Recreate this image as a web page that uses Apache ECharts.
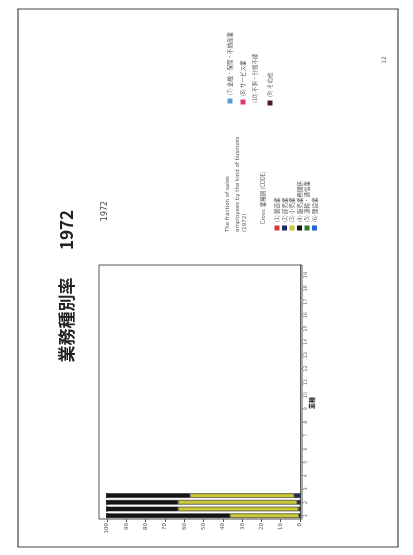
<!DOCTYPE html>
<html><head><meta charset="utf-8">
<script src="https://cdn.jsdelivr.net/npm/echarts@6/dist/echarts.min.js"></script>
<style>html,body{margin:0;padding:0;background:#fff}#c{width:413px;height:555px}</style>
</head><body><div id="c"></div>
<script>
// categories along the (rotated) category axis, bottom to top
const categories = ['1','1b','2','2b','3','3b','4','4b','5','5b','6','6b','7','7b','8','8b','9','9b','10','10b',
  '11','11b','12','12b','13','13b','14','14b','15','15b','16','16b','17','17b','18','18b','19','19b'];
const valueTicks = [0,10,20,30,40,50,60,70,80,90,100];
const seriesNames = ['(1) 製造業','(2) 卸売業','(3) 小売業','(4) 販売業務関係','(5) 運輸・通信業','(6) 建設業',
  '(7) 金融・保険・不動産業','(8) サービス業','(9) その他'];
const seriesColors = ['#e03434','#1c2a66','#c9c838','#141414','#2f7a34','#2763cc','#5a96dd','#e0357c','#4e1a24'];
const s1 = [0,0,0,0];
const s2 = [0.5,0.8,1.5,3];
const s3 = [35.8,62.4,61.7,54];
const s4 = [63.7,36.8,36.8,43];
const s5 = [0,0,0,0];
const s6 = [0,0,0,0];
const s7 = [0,0,0,0];
const s8 = [0,0,0,0];
const s9 = [0,0,0,0];
const seriesValues = [s1,s2,s3,s4,s5,s6,s7,s8,s9];
const titleText = '業務種別率';
const titleYear = '1972';
const subtitleText = '1972';
const axisName = '業種';
const headingLines = ['The fraction of sales','employees by the kind of business','(1972)'];
const crossLine = 'Cross: 業種別 (CODE)';

const chart = echarts.init(document.getElementById('c'), null, {renderer:'canvas'});
const R = Math.PI/2;
const graphics = [];
// page frame
graphics.push({type:'rect', shape:{x:18,y:9,width:380,height:538}, style:{fill:'none',stroke:'#444',lineWidth:1.2}, silent:true});
// plot box
graphics.push({type:'rect', shape:{x:99,y:265,width:203,height:254}, style:{fill:'none',stroke:'#555',lineWidth:1}, silent:true});
// title & subtitle
graphics.push({type:'text', x:67, y:320, rotation:R, style:{text:titleText, fontSize:17, fontWeight:'bold', fontFamily:'Noto Sans CJK JP', fill:'#222', align:'center', verticalAlign:'middle'}});
graphics.push({type:'text', x:67, y:230, rotation:R, style:{text:titleYear, fontSize:17, fontWeight:'bold', fontFamily:'Noto Sans CJK JP', fill:'#222', align:'center', verticalAlign:'middle'}});
graphics.push({type:'text', x:105, y:211, rotation:R, style:{text:subtitleText, fontSize:8, fontFamily:'DejaVu Sans', fill:'#444', align:'center', verticalAlign:'middle'}});
// axis name
graphics.push({type:'text', x:312, y:403, rotation:R, style:{text:axisName, fontSize:6, fontWeight:'bold', fontFamily:'Noto Sans CJK JP', fill:'#222', align:'center', verticalAlign:'middle'}});
// page number
graphics.push({type:'text', x:384, y:60, rotation:R, style:{text:'12', fontSize:6, fontFamily:'DejaVu Sans', fill:'#666', align:'center', verticalAlign:'middle'}});
// legend heading
const headX = [228,238,245];
headingLines.forEach((t,i)=>graphics.push({type:'text', x:headX[i], y:232, rotation:R, style:{text:t, fontSize:5.5, fontFamily:'DejaVu Sans', fill:'#555', align:'left', verticalAlign:'middle'}}));
graphics.push({type:'text', x:263, y:224, rotation:R, style:{text:crossLine, fontSize:5.5, fontFamily:'Noto Sans CJK JP', fill:'#555', align:'left', verticalAlign:'middle'}});
// legend items
const legPos = [[277,228],[284.5,228],[292,228],[299.5,228],[307,228],[314.5,228],[230,101],[243,102],[270,103]];
seriesNames.forEach((n,i)=>{
  const [x,y] = legPos[i];
  graphics.push({type:'rect', shape:{x:x-2.5,y:y-2.5,width:5,height:5}, style:{fill:seriesColors[i]}});
  graphics.push({type:'text', x:x, y:y-6, rotation:R, style:{text:n, fontSize:5.5, fontFamily:'Noto Sans CJK JP', fill:'#555', align:'left', verticalAlign:'middle'}});
});
graphics.push({type:'text', x:255, y:103, rotation:R, style:{text:'(10) 不明・分類不能', fontSize:5.5, fontFamily:'Noto Sans CJK JP', fill:'#666', align:'left', verticalAlign:'middle'}});

const series = seriesNames.map((n,i)=>({
  name:n, type:'bar', stack:'all', barWidth:4.6,
  data: seriesValues[i],
  itemStyle:{color:seriesColors[i], borderColor:'#222', borderWidth:0.6},
  silent:true, animation:false
}));

chart.setOption({
  animation:false,
  grid:{left:107, right:113, top:265, bottom:36, containLabel:false},
  xAxis:{type:'value', min:0, max:100, interval:10, inverse:true,
    axisLine:{show:false}, splitLine:{show:false},
    axisTick:{show:true, length:3, lineStyle:{color:'#555'}},
    axisLabel:{rotate:90, fontSize:5.5, color:'#555', margin:4, fontFamily:'DejaVu Sans',
      formatter:(v)=> valueTicks.indexOf(v)>=0 ? String(v) : ''}},
  yAxis:{type:'category', data:categories, position:'right',
    axisLine:{show:true, lineStyle:{color:'#555'}},
    axisTick:{show:true, length:2.5, interval:1, alignWithLabel:true, lineStyle:{color:'#777'}},
    axisLabel:{interval:1, rotate:90, fontSize:5, color:'#666', margin:3, fontFamily:'DejaVu Sans'}},
  series: series,
  graphic: graphics
});
</script></body></html>
